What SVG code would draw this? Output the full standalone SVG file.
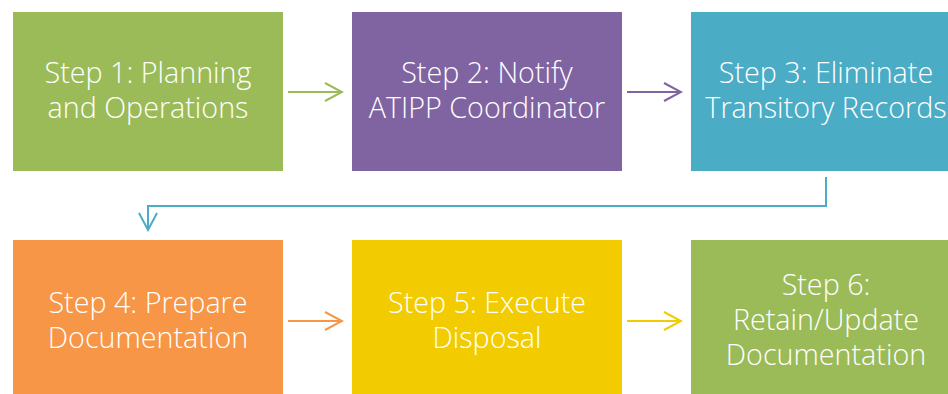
<svg xmlns="http://www.w3.org/2000/svg" width="948" height="394" viewBox="0 0 948 394">
  <style>
    .lbl { font-family: "Open Sans", "Liberation Sans", sans-serif; font-size: 28.7px; font-weight: 300; fill: #FFFFFF; text-anchor: middle; }
    .conn { fill: none; stroke-width: 2; }
  </style>
  <defs>
    <marker id="ahGreen" viewBox="0 0 20 20" refX="18" refY="10" markerWidth="20" markerHeight="20" markerUnits="userSpaceOnUse" orient="auto">
      <path d="M1,1 L18,10 L1,19" fill="none" stroke="#9BBB59" stroke-width="2"/>
    </marker>
    <marker id="ahPurple" viewBox="0 0 20 20" refX="18" refY="10" markerWidth="20" markerHeight="20" markerUnits="userSpaceOnUse" orient="auto">
      <path d="M1,1 L18,10 L1,19" fill="none" stroke="#8064A2" stroke-width="2"/>
    </marker>
    <marker id="ahTeal" viewBox="0 0 20 20" refX="18" refY="10" markerWidth="20" markerHeight="20" markerUnits="userSpaceOnUse" orient="auto">
      <path d="M1,1 L18,10 L1,19" fill="none" stroke="#4BACC6" stroke-width="2"/>
    </marker>
    <marker id="ahOrange" viewBox="0 0 20 20" refX="18" refY="10" markerWidth="20" markerHeight="20" markerUnits="userSpaceOnUse" orient="auto">
      <path d="M1,1 L18,10 L1,19" fill="none" stroke="#F79646" stroke-width="2"/>
    </marker>
    <marker id="ahYellow" viewBox="0 0 20 20" refX="18" refY="10" markerWidth="20" markerHeight="20" markerUnits="userSpaceOnUse" orient="auto">
      <path d="M1,1 L18,10 L1,19" fill="none" stroke="#F2CC00" stroke-width="2"/>
    </marker>
  </defs>

  <g id="connectors">
    <line class="conn" x1="288" y1="92" x2="342" y2="92" stroke="#9BBB59" marker-end="url(#ahGreen)"/>
    <line class="conn" x1="627" y1="92" x2="681" y2="92" stroke="#8064A2" marker-end="url(#ahPurple)"/>
    <polyline class="conn" points="826,177 826,206 148,206 148,230" stroke="#4BACC6" marker-end="url(#ahTeal)"/>
    <line class="conn" x1="288" y1="321" x2="342" y2="321" stroke="#F79646" marker-end="url(#ahOrange)"/>
    <line class="conn" x1="627" y1="321" x2="681" y2="321" stroke="#F2CC00" marker-end="url(#ahYellow)"/>
  </g>

  <g id="step1">
    <rect x="13" y="12" width="270" height="159" fill="#9BBB59"/>
    <text class="lbl" x="148" y="83">Step 1: Planning</text>
    <text class="lbl" x="148" y="118">and Operations</text>
  </g>
  <g id="step2">
    <rect x="352" y="12" width="270" height="159" fill="#8064A2"/>
    <text class="lbl" x="487" y="83">Step 2: Notify</text>
    <text class="lbl" x="487" y="118">ATIPP Coordinator</text>
  </g>
  <g id="step3">
    <rect x="691" y="12" width="270" height="159" fill="#4BACC6"/>
    <text class="lbl" x="826" y="83">Step 3: Eliminate</text>
    <text class="lbl" x="826" y="118">Transitory Records</text>
  </g>
  <g id="step4">
    <rect x="13" y="240" width="270" height="159" fill="#F79646"/>
    <text class="lbl" x="148" y="313">Step 4: Prepare</text>
    <text class="lbl" x="148" y="348">Documentation</text>
  </g>
  <g id="step5">
    <rect x="352" y="240" width="270" height="159" fill="#F2CC00"/>
    <text class="lbl" x="487" y="313">Step 5: Execute</text>
    <text class="lbl" x="487" y="348">Disposal</text>
  </g>
  <g id="step6">
    <rect x="691" y="240" width="270" height="159" fill="#9BBB59"/>
    <text class="lbl" x="826" y="295">Step 6:</text>
    <text class="lbl" x="826" y="330">Retain/Update</text>
    <text class="lbl" x="826" y="365">Documentation</text>
  </g>
</svg>
